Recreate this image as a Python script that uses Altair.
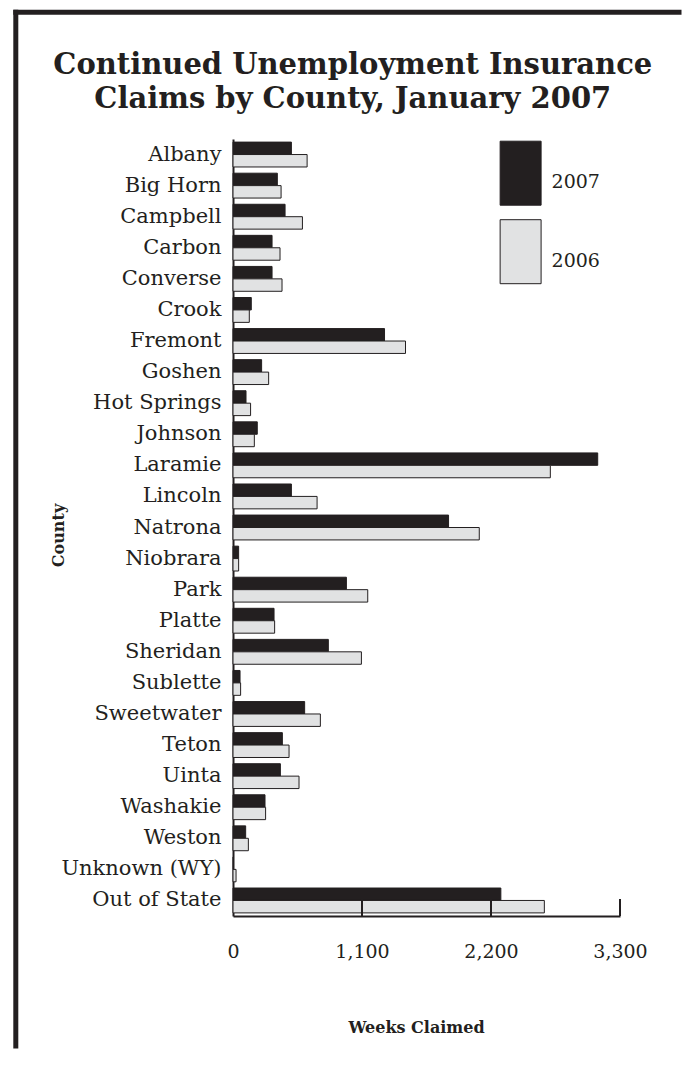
import altair as alt
import pandas as pd

counties = ["Albany", "Big Horn", "Campbell", "Carbon", "Converse", "Crook",
            "Fremont", "Goshen", "Hot Springs", "Johnson", "Laramie", "Lincoln",
            "Natrona", "Niobrara", "Park", "Platte", "Sheridan", "Sublette",
            "Sweetwater", "Teton", "Uinta", "Washakie", "Weston",
            "Unknown (WY)", "Out of State"]
claims_2007 = [498, 378, 444, 333, 333, 156, 1292, 244, 111, 207, 3110, 498,
               1838, 48, 967, 350, 813, 60, 611, 421, 404, 273, 108, 3, 2284]
claims_2006 = [632, 410, 592, 401, 418, 139, 1471, 304, 150, 182, 2706, 717,
               2100, 48, 1149, 355, 1095, 65, 745, 478, 563, 278, 131, 26, 2655]
years = ["2007", "2006"]
tick_values = [0, 1100, 2200, 3300]
inner_ticks = [1100, 2200, 3300]
title_lines = ["Continued Unemployment Insurance", "Claims by County, January 2007"]

rows = []
for c, a, b in zip(counties, claims_2007, claims_2006):
    rows.append({"county": c, "year": "2007", "value": a})
    rows.append({"county": c, "year": "2006", "value": b})
df = pd.DataFrame(rows)

INK = "#231f20"
SERIF = "DejaVu Serif"
W, H = 387, 777

xscale = alt.Scale(domain=[0, 3300], nice=False, zero=True)
xaxis = alt.Axis(values=tick_values, labelExpr="format(datum.value, ',')",
                 grid=False, ticks=False, labelFlush=False,
                 labelFont=SERIF, labelFontSize=19, labelColor=INK,
                 labelPadding=26, domainColor=INK, domainWidth=2,
                 title="Weeks Claimed", titleFont=SERIF, titleFontSize=16,
                 titleFontWeight="bold", titleColor=INK,
                 titleX=183, titleY=103, titleAlign="center", titleBaseline="top")

bars = alt.Chart(df).mark_bar(stroke=INK, strokeWidth=1).encode(
    x=alt.X("value:Q", scale=xscale, axis=xaxis),
    y=alt.Y("county:N", sort=counties,
            scale=alt.Scale(paddingInner=0.2, paddingOuter=0.1),
            axis=alt.Axis(ticks=False, labelFont=SERIF, labelFontSize=21,
                          labelColor=INK, labelPadding=12, domainColor=INK,
                          domainWidth=2, title="County", titleFont=SERIF,
                          titleFontSize=16, titleFontWeight="bold",
                          titleColor=INK, titleX=-167, titleY=396)),
    yOffset=alt.YOffset("year:N", sort=years),
    color=alt.Color("year:N", sort=years,
                    scale=alt.Scale(domain=years, range=[INK, "#e1e2e3"]),
                    legend=alt.Legend(title=None, orient="none", legendX=243.6,
                                      legendY=1.7, padding=0,
                                      symbolType="M-0.28,-1H1V1H-0.28Z",
                                      symbolSize=4096, symbolStrokeColor=INK,
                                      symbolStrokeWidth=1, labelFont=SERIF,
                                      labelFontSize=19, labelColor=INK,
                                      labelOffset=10, labelBaseline="top",
                                      rowPadding=9.5)),
)

ticks = alt.Chart(pd.DataFrame({"value": inner_ticks})).mark_rule(
    color=INK, strokeWidth=2).encode(
    x=alt.X("value:Q", scale=xscale),
    y=alt.value(H - 17), y2=alt.value(H))

one = pd.DataFrame({"a": [0]})
frame_left = alt.Chart(one).mark_rule(
    color=INK, strokeWidth=5, strokeCap="square").encode(
    x=alt.value(-217.2), y=alt.value(-126.8), y2=alt.value(907))
frame_top = alt.Chart(one).mark_rule(
    color=INK, strokeWidth=5, strokeCap="square").encode(
    x=alt.value(-217.2), x2=alt.value(446), y=alt.value(-126.8))

title = alt.Chart(one).mark_text(
    font=SERIF, fontSize=29, fontWeight="bold", color=INK, align="center",
    baseline="alphabetic", lineHeight=34.4).encode(
    x=alt.value(119.8), y=alt.value(-65), text=alt.value(title_lines))

chart = alt.layer(bars, ticks, frame_left, frame_top, title).properties(
    width=W, height=H,
    padding={"left": 4, "top": 0, "right": 0, "bottom": 0},
).configure_view(strokeWidth=0)

chart.save("out.html", embed_options={"renderer": "svg", "actions": False})
